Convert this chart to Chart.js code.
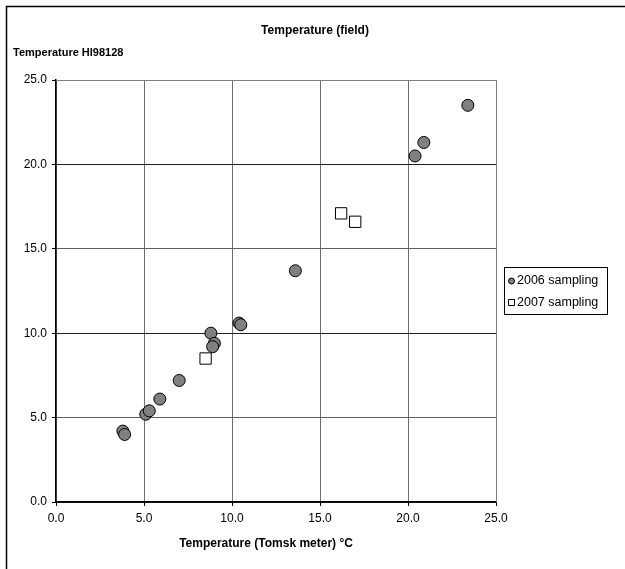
<!DOCTYPE html>
<html>
<head>
<meta charset="utf-8">
<script src="https://cdn.jsdelivr.net/npm/chart.js@4.4.1/dist/chart.umd.min.js"></script>
<style>
  html, body { margin: 0; padding: 0; background: #fff; }
  #wrap { width: 625px; height: 569px; }
</style>
</head>
<body>
<div id="wrap"><canvas id="temp_chart" width="625" height="569"></canvas></div>
<script>
// Tomsk meter (x) vs HI98128 (y), both in degrees C
const tomsk2006 = [3.8, 3.9, 5.1, 5.3, 5.9, 7.0, 8.8, 9.0, 8.9, 10.4, 10.5, 13.6, 20.4, 20.9, 23.4];
const hi2006    = [4.2, 4.0, 5.2, 5.4, 6.1, 7.2, 10.0, 9.4, 9.2, 10.6, 10.5, 13.7, 20.5, 21.3, 23.5];
const tomsk2007 = [8.5, 16.2, 17.0];
const hi2007    = [8.5, 17.1, 16.6];

const seriesNames = ['2006 sampling', '2007 sampling'];
const chartTitle = 'Temperature (field)';
const yTitle = 'Temperature HI98128';
const xTitle = 'Temperature (Tomsk meter) \u00B0C';

const toPoints = (xs, ys) => xs.map((x, i) => ({ x: x, y: ys[i] }));

const font = 'Liberation Sans, Arial, sans-serif';

// titles, legend and frame the way the spreadsheet draws them
const decor = {
    id: 'decor',
    afterDraw(chart) {
        const c = chart.ctx;
        const area = chart.chartArea;
        c.save();
        c.fillStyle = '#000';
        c.textBaseline = 'middle';

        c.font = 'bold 12px ' + font;
        c.textAlign = 'center';
        c.fillText(chartTitle, 315, 31);
        c.fillText(xTitle, 266, 544);
        c.font = 'bold 11px ' + font;
        c.textAlign = 'left';
        c.fillText(yTitle, 13, 53);

        // top + right plot border in grey
        c.strokeStyle = '#808080';
        c.lineWidth = 1;
        c.beginPath();
        c.moveTo(area.left, area.top + 0.5);
        c.lineTo(area.right + 0.5, area.top + 0.5);
        c.lineTo(area.right + 0.5, area.bottom);
        c.stroke();

        // legend
        c.strokeStyle = '#000';
        c.strokeRect(504.5, 267.5, 103, 47);
        c.font = '12.5px ' + font;
        const ds = chart.data.datasets;
        ds.forEach((d, i) => {
            const y = 281 + i * 22;
            c.fillStyle = d.backgroundColor;
            c.strokeStyle = d.borderColor;
            c.beginPath();
            if (d.pointStyle === 'rect') {
                c.rect(508.5, y - 3.5, 6, 6);
            } else {
                c.arc(511.5, y, 3, 0, Math.PI * 2);
            }
            c.fill();
            c.stroke();
            c.fillStyle = '#000';
            c.fillText(d.label, 517, y);
        });

        // outer chart frame
        c.strokeStyle = '#000';
        c.lineWidth = 1.5;
        c.strokeRect(6.5, 6.5, 800, 800);
        c.restore();
    }
};

new Chart(document.getElementById('temp_chart'), {
    type: 'scatter',
    data: {
        datasets: [{
            label: seriesNames[0],
            data: toPoints(tomsk2006, hi2006),
            pointStyle: 'circle',
            pointRadius: 6,
            backgroundColor: '#808080',
            borderColor: '#000',
            borderWidth: 1,
        }, {
            label: seriesNames[1],
            data: toPoints(tomsk2007, hi2007),
            pointStyle: 'rect',
            pointRadius: 8,
            backgroundColor: '#fff',
            borderColor: '#000',
            borderWidth: 1,
        }]
    },
    options: {
        responsive: false,
        animation: false,
        devicePixelRatio: 1,
        layout: { padding: { top: 80, right: 129, left: 0, bottom: 0 } },
        plugins: {
            legend: { display: false },
            tooltip: { enabled: false }
        },
        scales: {
            x: {
                type: 'linear',
                min: 0,
                max: 25,
                ticks: {
                    stepSize: 5,
                    padding: 5,
                    color: '#000',
                    font: { family: font, size: 12 },
                    callback: v => v.toFixed(1)
                },
                grid: {
                    color: '#707070',
                    tickLength: 4,
                    tickColor: '#000'
                },
                border: { color: '#000', width: 1.5 },
                afterFit: s => { s.height = 67; }
            },
            y: {
                type: 'linear',
                min: 0,
                max: 25,
                ticks: {
                    stepSize: 5,
                    padding: 5,
                    color: '#000',
                    font: { family: font, size: 12 },
                    callback: v => v.toFixed(1)
                },
                grid: {
                    color: ctx => (ctx.tick && ctx.tick.value % 10 === 0) ? '#202020' : '#606060',
                    tickLength: 4,
                    tickColor: '#000'
                },
                border: { color: '#000', width: 1.5 },
                afterFit: s => { s.width = 56; }
            }
        }
    },
    plugins: [decor]
});
</script>
</body>
</html>
